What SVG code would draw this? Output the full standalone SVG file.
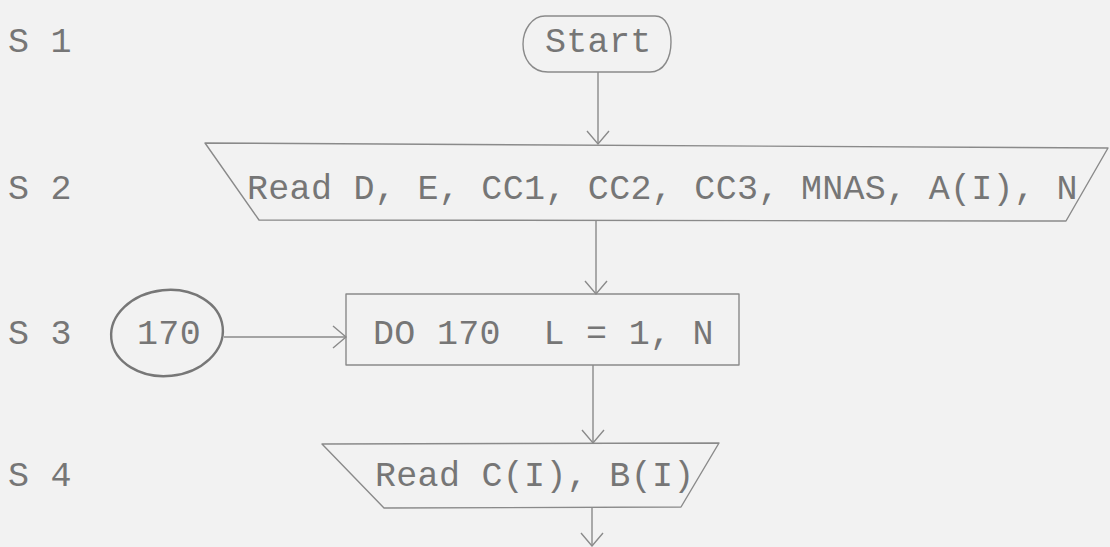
<svg xmlns="http://www.w3.org/2000/svg" width="1110" height="547" viewBox="0 0 1110 547">
  <style>
    .t { font-family: "Liberation Mono", "Courier New", monospace; font-size: 35px; letter-spacing: 0.3px; fill: #767676; white-space: pre; }
    .shape { fill: none; stroke: #8a8a8a; stroke-width: 1.4; stroke-linejoin: round; }
    .conn { fill: none; stroke: #8a8a8a; stroke-width: 1.4; }
    .ring { fill: none; stroke: #777777; stroke-width: 2.4; }
  </style>
  <defs>
    <marker id="vee" viewBox="0 0 16 24" refX="14" refY="12" markerWidth="16" markerHeight="24" markerUnits="userSpaceOnUse" orient="auto">
      <path d="M1,1 L14,12 L1,23" fill="none" stroke="#8a8a8a" stroke-width="1.4"/>
    </marker>
  </defs>

  <rect x="0" y="0" width="1110" height="547" fill="#f2f2f2"/>

  <!-- step numbers in the left margin -->
  <g id="step-labels">
    <text class="t" x="8" y="52">S 1</text>
    <text class="t" x="8" y="199">S 2</text>
    <text class="t" x="8" y="344">S 3</text>
    <text class="t" x="8" y="486">S 4</text>
  </g>

  <g id="start">
    <path class="shape" d="M545,16 L655,16 C667,16 671,30 671,42 C671,58 664,72 650,72 L548,72 C531,72 523,58 523,44 C523,30 532,16 545,16 Z"/>
    <text class="t" x="545" y="52">Start</text>
  </g>

  <g id="read-inputs">
    <path class="shape" d="M205,143 L1108,148 L1066,221 L259,220 Z"/>
    <text class="t" x="247" y="199">Read D, E, CC1, CC2, CC3, MNAS, A(I), N</text>
  </g>

  <g id="loop-ref">
    <ellipse class="ring" cx="167" cy="333" rx="56" ry="43" transform="rotate(-6 167 333)"/>
    <text class="t" x="169" y="344" text-anchor="middle">170</text>
  </g>

  <g id="do-loop">
    <rect class="shape" x="346" y="294" width="393" height="71"/>
    <text class="t" x="373" y="344">DO 170  L = 1, N</text>
  </g>

  <g id="read-cb">
    <path class="shape" d="M322,444 L719,443 L681,507 L384,508 Z"/>
    <text class="t" x="375" y="486">Read C(I), B(I)</text>
  </g>

  <g id="connectors">
    <line class="conn" x1="598" y1="72" x2="598" y2="144" marker-end="url(#vee)"/>
    <line class="conn" x1="596" y1="221" x2="596" y2="294" marker-end="url(#vee)"/>
    <line class="conn" x1="224" y1="337" x2="346" y2="337" marker-end="url(#vee)"/>
    <line class="conn" x1="593" y1="365" x2="593" y2="443" marker-end="url(#vee)"/>
    <line class="conn" x1="592" y1="507" x2="592" y2="546" marker-end="url(#vee)"/>
  </g>
</svg>
